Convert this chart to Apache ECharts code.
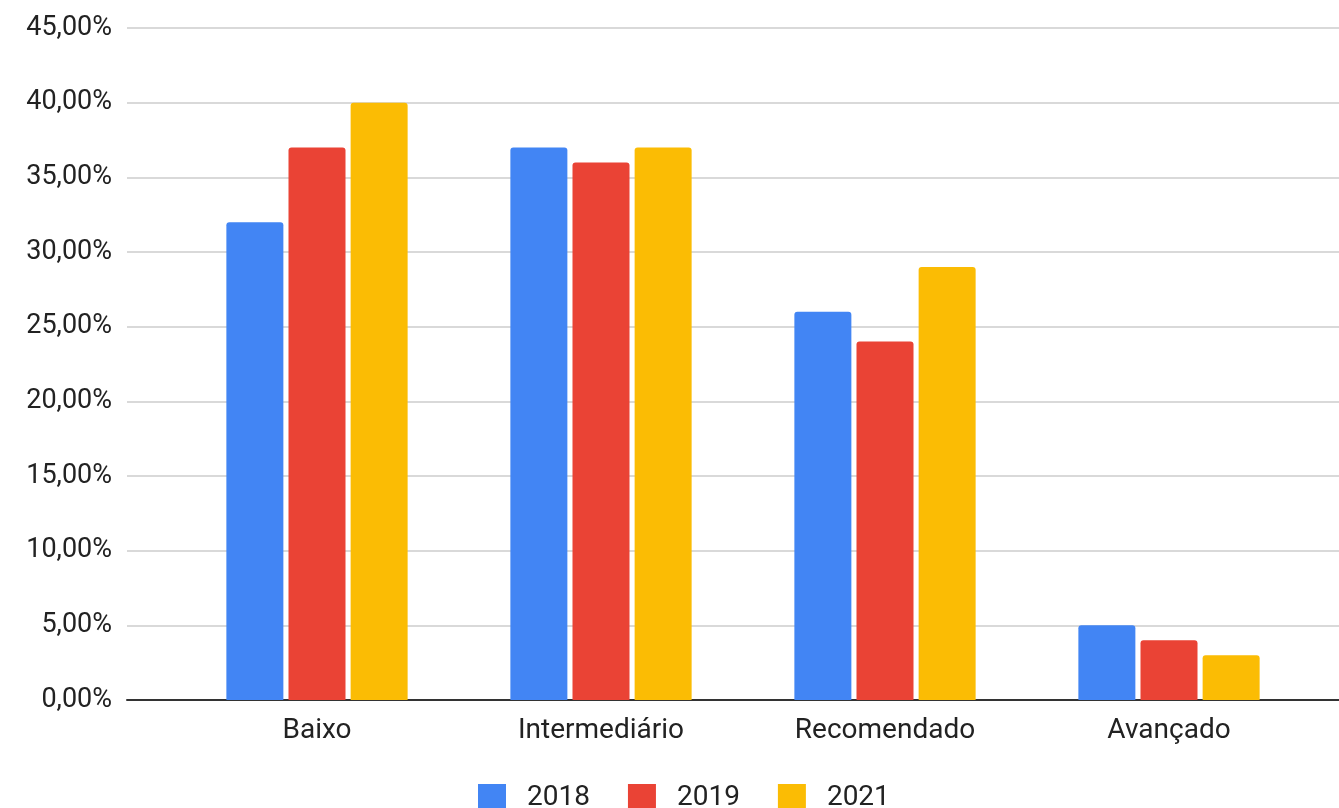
<!DOCTYPE html>
<html>
<head>
<meta charset="utf-8">
<script src="https://cdn.jsdelivr.net/npm/echarts@6/dist/echarts.min.js"></script>
<style>
html,body{margin:0;padding:0;background:#fff;}
#chart{width:1339px;height:808px;}
</style>
</head>
<body>
<div id="chart"></div>
<script>
const categories = ['Baixo', 'Intermediário', 'Recomendado', 'Avançado'];
const seriesNames = ['2018', '2019', '2021'];
const values2018 = [32, 37, 26, 5];
const values2019 = [37, 36, 24, 4];
const values2021 = [40, 37, 29, 3];
const colors = ['#4285F4', '#EA4335', '#FBBC04'];
const yMin = 0, yMax = 45, yStep = 5;

const font = 'Roboto, "Noto Sans", sans-serif';
const chart = echarts.init(document.getElementById('chart'));
const allValues = [values2018, values2019, values2021];
chart.setOption({
  animation: false,
  backgroundColor: '#ffffff',
  textStyle: { fontFamily: font },
  legend: {
    data: seriesNames,
    left: 473, top: 779,
    itemWidth: 28, itemHeight: 28, itemGap: 38,
    icon: 'rect',
    textStyle: { fontSize: 28, color: '#222', fontFamily: font, padding: [0, 0, 0, 16] }
  },
  grid: [
    { left: 127, right: 0, top: 28, bottom: 108 },
    { left: 175, right: 28, top: 28, bottom: 108 }
  ],
  xAxis: [
    { type: 'category', gridIndex: 0, data: [''],
      axisLine: { show: true, lineStyle: { color: '#333', width: 2 } },
      axisTick: { show: false }, axisLabel: { show: false } },
    { type: 'category', gridIndex: 1, data: categories,
      axisLine: { show: false }, axisTick: { show: false },
      axisLabel: { fontSize: 28, color: '#222', margin: 17, fontFamily: font } }
  ],
  yAxis: [
    { type: 'value', gridIndex: 0, min: yMin, max: yMax, interval: yStep,
      axisLine: { show: false }, axisTick: { show: false },
      splitLine: { lineStyle: { color: '#cccccc', width: 1.5 } },
      axisLabel: { fontSize: 27, color: '#222', margin: 15, fontFamily: font,
        formatter: v => v.toFixed(2).replace('.', ',') + '%' } },
    { type: 'value', gridIndex: 1, min: yMin, max: yMax, interval: yStep,
      show: false, splitLine: { show: false } }
  ],
  series: seriesNames.map((name, i) => ({
    name, type: 'bar', xAxisIndex: 1, yAxisIndex: 1,
    data: allValues[i],
    barWidth: 57, barGap: '9%',
    itemStyle: { color: colors[i], borderRadius: [3, 3, 0, 0] },
    z: 3
  }))
});
</script>
</body>
</html>
